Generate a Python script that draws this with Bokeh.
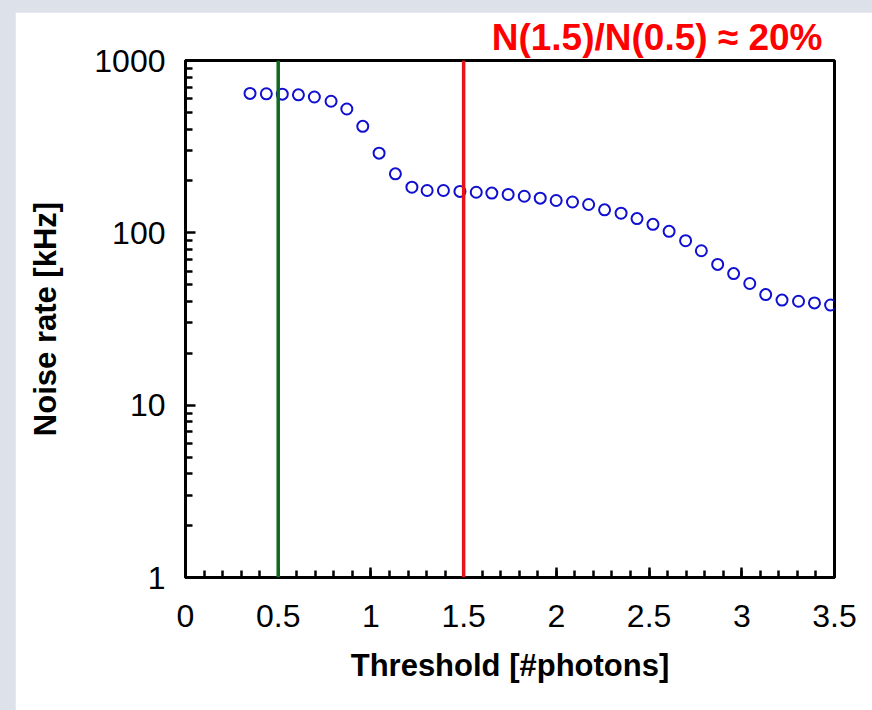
from bokeh.plotting import figure
from bokeh.models import FixedTicker, PrintfTickFormatter, Span
from bokeh.layouts import column
from bokeh.embed import file_html
from bokeh.resources import INLINE

# ---- data ----
threshold = [0.348, 0.436, 0.522, 0.609, 0.695, 0.785, 0.870, 0.956, 1.044, 1.132,
             1.221, 1.303, 1.391, 1.480, 1.568, 1.652, 1.740, 1.827, 1.913, 1.999,
             2.087, 2.174, 2.260, 2.349, 2.435, 2.521, 2.608, 2.697, 2.782, 2.870,
             2.956, 3.043, 3.129, 3.217, 3.306, 3.392, 3.479]
noise_khz = [644, 641, 638, 632, 614, 580, 523, 415, 290, 220,
             184, 176, 176, 174, 172, 170, 167, 163, 159, 154,
             151, 146, 136, 130, 121, 112, 102, 90, 78.7, 65.6,
             58, 50.8, 43.8, 40.7, 40.1, 39.2, 38.1]
marker_lines = [0.5, 1.5]
marker_colors = ["#0e6b1e", "#e8141c"]
x_major = [0, 0.5, 1, 1.5, 2, 2.5, 3, 3.5]
x_minor = [round(i * 0.1, 1) for i in range(36)]
y_major = [1, 10, 100, 1000]
y_minor = [m * d for d in (1, 10, 100) for m in range(2, 10)]
title_text = "N(1.5)/N(0.5) \u2248 20%"

FONT = "Liberation Sans"

p = figure(width=857, height=698, y_axis_type="log",
           x_range=(0, 3.5), y_range=(1, 1000),
           output_backend="svg", toolbar_location=None,
           min_border_left=170, min_border_right=38,
           min_border_top=47, min_border_bottom=133)
p.margin = (12, 0, 0, 15)
p.background_fill_color = "white"
p.border_fill_color = "white"
p.outline_line_color = "black"
p.outline_line_width = 3
p.xgrid.visible = False
p.ygrid.visible = False

# title annotation
p.title.text = title_text
p.title.align = "right"
p.title.offset = 12
p.title.text_color = "#ff0000"
p.title.text_font = FONT
p.title.text_font_size = "37px"
p.title.text_font_style = "bold"
p.title.standoff = 5

for ax in (p.xaxis[0], p.yaxis[0]):
    ax.axis_line_width = 3
    ax.axis_line_color = "black"
    ax.major_tick_in = 10
    ax.major_tick_out = 0
    ax.minor_tick_in = 7
    ax.minor_tick_out = 0
    ax.major_tick_line_width = 2.5
    ax.minor_tick_line_width = 2.5
    ax.major_tick_line_color = "black"
    ax.minor_tick_line_color = "black"
    ax.major_label_text_font = FONT
    ax.major_label_text_font_size = "32px"
    ax.major_label_text_color = "black"
    ax.axis_label_text_font = FONT
    ax.axis_label_text_font_size = "31px"
    ax.axis_label_text_font_style = "bold"
    ax.axis_label_text_color = "black"

p.xaxis.ticker = FixedTicker(ticks=x_major, minor_ticks=x_minor)
p.xaxis.formatter = PrintfTickFormatter(format="%g")
p.xaxis.major_label_standoff = 27
p.xaxis.axis_label = "Threshold [#photons]"
p.xaxis.axis_label_standoff = 18

p.yaxis.ticker = FixedTicker(ticks=y_major, minor_ticks=y_minor)
p.yaxis.formatter = PrintfTickFormatter(format="%d")
p.yaxis.major_label_standoff = 20
p.yaxis.axis_label = "Noise rate [kHz]"
p.yaxis.axis_label_standoff = 28

for xv, col in zip(marker_lines, marker_colors):
    p.add_layout(Span(location=xv, dimension="height", line_color=col, line_width=3.5))

p.scatter(threshold, noise_khz, marker="circle", size=11,
          fill_color=None, line_color="#1010d0", line_width=2)

root = column(p, styles={"background-color": "#dde1ea"})
open("out.html", "w").write(file_html(root, INLINE))
